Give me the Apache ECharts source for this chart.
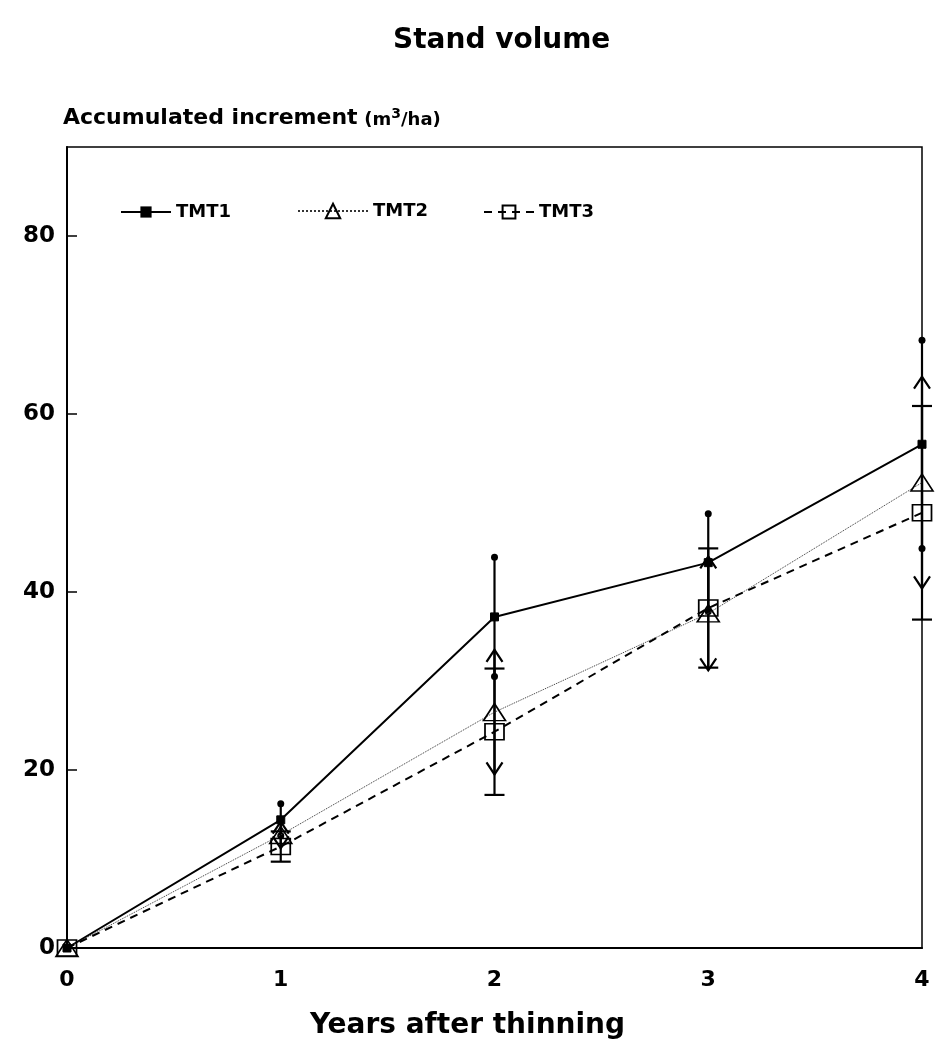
<!DOCTYPE html>
<html>
<head>
<meta charset="utf-8">
<script src="https://cdn.jsdelivr.net/npm/echarts@6/dist/echarts.min.js"></script>
<style>
  html, body { margin: 0; padding: 0; background: #fff; }
  #main { width: 935px; height: 1045px; }
</style>
</head>
<body>
<div id="main"></div>
<script>
// years after thinning
var years = [0, 1, 2, 3, 4];
// accumulated increment (m3/ha), means and half-widths of the error bars
var tmt1 = [0, 14.4, 37.2, 43.3, 56.6];
var tmt1Err = [0, 1.8, 6.7, 5.5, 11.7];
var tmt2 = [0, 12.7, 26.5, 37.6, 52.3];
var tmt2Err = [0, 1.5, 7.0, 6.4, 11.9];
var tmt3 = [0, 11.4, 24.3, 38.2, 48.9];
var tmt3Err = [0, 1.7, 7.1, 6.7, 12.0];
var yTicks = [0, 20, 40, 60, 80];

var font = 'DejaVu Sans';

function points(vals) {
    return years.map(function (x, i) { return [x, vals[i]]; });
}
function bars(vals, errs) {
    var out = [];
    years.forEach(function (x, i) {
        if (errs[i] > 0) out.push([x, vals[i] - errs[i], vals[i] + errs[i]]);
    });
    return out;
}

// error bar drawing, cap style differs per treatment
function errorBar(cap) {
    return function (params, api) {
        var x = api.value(0);
        var lo = api.coord([x, api.value(1)]);
        var hi = api.coord([x, api.value(2)]);
        var st = { stroke: '#000', lineWidth: 2.2, fill: null };
        var kids = [{
            type: 'line',
            shape: { x1: lo[0], y1: lo[1], x2: hi[0], y2: hi[1] },
            style: st
        }];
        if (cap === 'dot') {
            [lo, hi].forEach(function (p) {
                kids.push({ type: 'circle', shape: { cx: p[0], cy: p[1], r: 3.5 }, style: { fill: '#000' } });
            });
        } else if (cap === 'arrow') {
            kids.push({ type: 'polyline', shape: { points: [[hi[0] - 8, hi[1] + 12], [hi[0], hi[1]], [hi[0] + 8, hi[1] + 12]] }, style: st });
            kids.push({ type: 'polyline', shape: { points: [[lo[0] - 8, lo[1] - 12], [lo[0], lo[1]], [lo[0] + 8, lo[1] - 12]] }, style: st });
        } else {
            [lo, hi].forEach(function (p) {
                kids.push({ type: 'line', shape: { x1: p[0] - 10, y1: p[1], x2: p[0] + 10, y2: p[1] }, style: st });
            });
        }
        return { type: 'group', children: kids };
    };
}

var legendText = { fontFamily: font, fontWeight: 'bold', fontSize: 18, color: '#000' };

var option = {
    backgroundColor: '#fff',
    animation: false,
    title: {
        text: 'Stand volume',
        left: 388,
        top: 22,
        textStyle: { fontFamily: font, fontWeight: 'bold', fontSize: 28, color: '#000' }
    },
    legend: [{
        data: ['TMT1'], left: 115, top: 198, itemWidth: 50, itemHeight: 14,
        textStyle: legendText
    }, {
        data: ['TMT2'], left: 292, top: 197, itemWidth: 70, itemHeight: 18,
        textStyle: legendText
    }, {
        data: ['TMT3'], left: 478, top: 198, itemWidth: 50, itemHeight: 16,
        textStyle: legendText
    }],
    grid: {
        left: 67, right: 13, top: 147, bottom: 92,
        show: true, borderColor: '#000', borderWidth: 1.5
    },
    xAxis: {
        type: 'value',
        min: 0, max: 4, interval: 1,
        name: 'Years after thinning',
        nameLocation: 'middle',
        nameGap: 64,
        nameTextStyle: { fontFamily: font, fontWeight: 'bold', fontSize: 28, color: '#000', padding: [0, 54, 0, 0] },
        axisLine: { lineStyle: { color: '#000', width: 2 } },
        axisTick: { show: false },
        splitLine: { show: false },
        axisLabel: { fontFamily: font, fontWeight: 'bold', fontSize: 22, color: '#000', margin: 21 }
    },
    yAxis: {
        type: 'value',
        min: 0, max: 90, interval: 20,
        name: '{a|Accumulated increment}  {b|(m}{c|3}{b|/ha)}',
        nameLocation: 'end',
        nameGap: 18,
        nameTextStyle: {
            align: 'left',
            verticalAlign: 'bottom',
            padding: [0, 0, 0, -4],
            rich: {
                a: { fontFamily: font, fontWeight: 'bold', fontSize: 22, color: '#000' },
                b: { fontFamily: font, fontWeight: 'bold', fontSize: 18, color: '#000', verticalAlign: 'bottom' },
                c: { fontFamily: font, fontWeight: 'bold', fontSize: 14, color: '#000', verticalAlign: 'top' }
            }
        },
        axisLine: { show: true, lineStyle: { color: '#000', width: 2 } },
        axisTick: { show: true, inside: true, length: 10, lineStyle: { color: '#000', width: 1.5 } },
        splitLine: { show: false },
        axisLabel: {
            fontFamily: font, fontWeight: 'bold', fontSize: 23, color: '#000', margin: 12,
            showMaxLabel: false,
            formatter: function (v) { return yTicks.indexOf(v) >= 0 ? String(v) : ''; }
        }
    },
    series: [{
        type: 'custom', name: 'err1', renderItem: errorBar('dot'),
        data: bars(tmt1, tmt1Err), z: 1, silent: true
    }, {
        type: 'custom', name: 'err2', renderItem: errorBar('arrow'),
        data: bars(tmt2, tmt2Err), z: 1, silent: true
    }, {
        type: 'custom', name: 'err3', renderItem: errorBar('bar'),
        data: bars(tmt3, tmt3Err), z: 1, silent: true
    }, {
        type: 'line', name: 'TMT1', data: points(tmt1), z: 3,
        symbol: 'rect', symbolSize: 8, showAllSymbol: true,
        lineStyle: { color: '#000', width: 2 },
        itemStyle: { color: '#000', borderColor: '#000' }
    }, {
        type: 'line', name: 'TMT2', data: points(tmt2), z: 3,
        symbol: 'triangle', symbolSize: [22, 17], showAllSymbol: true,
        lineStyle: { color: '#333', width: 1, type: 'dotted' },
        itemStyle: { color: 'rgba(255,255,255,0)', borderColor: '#000', borderWidth: 1.6 }
    }, {
        type: 'line', name: 'TMT3', data: points(tmt3), z: 3,
        symbol: 'rect', symbolSize: [19, 16], showAllSymbol: true,
        lineStyle: { color: '#000', width: 2, type: [8, 6] },
        itemStyle: { color: 'rgba(255,255,255,0)', borderColor: '#000', borderWidth: 1.6 }
    }]
};

var chart = echarts.init(document.getElementById('main'));
chart.setOption(option);
</script>
</body>
</html>
